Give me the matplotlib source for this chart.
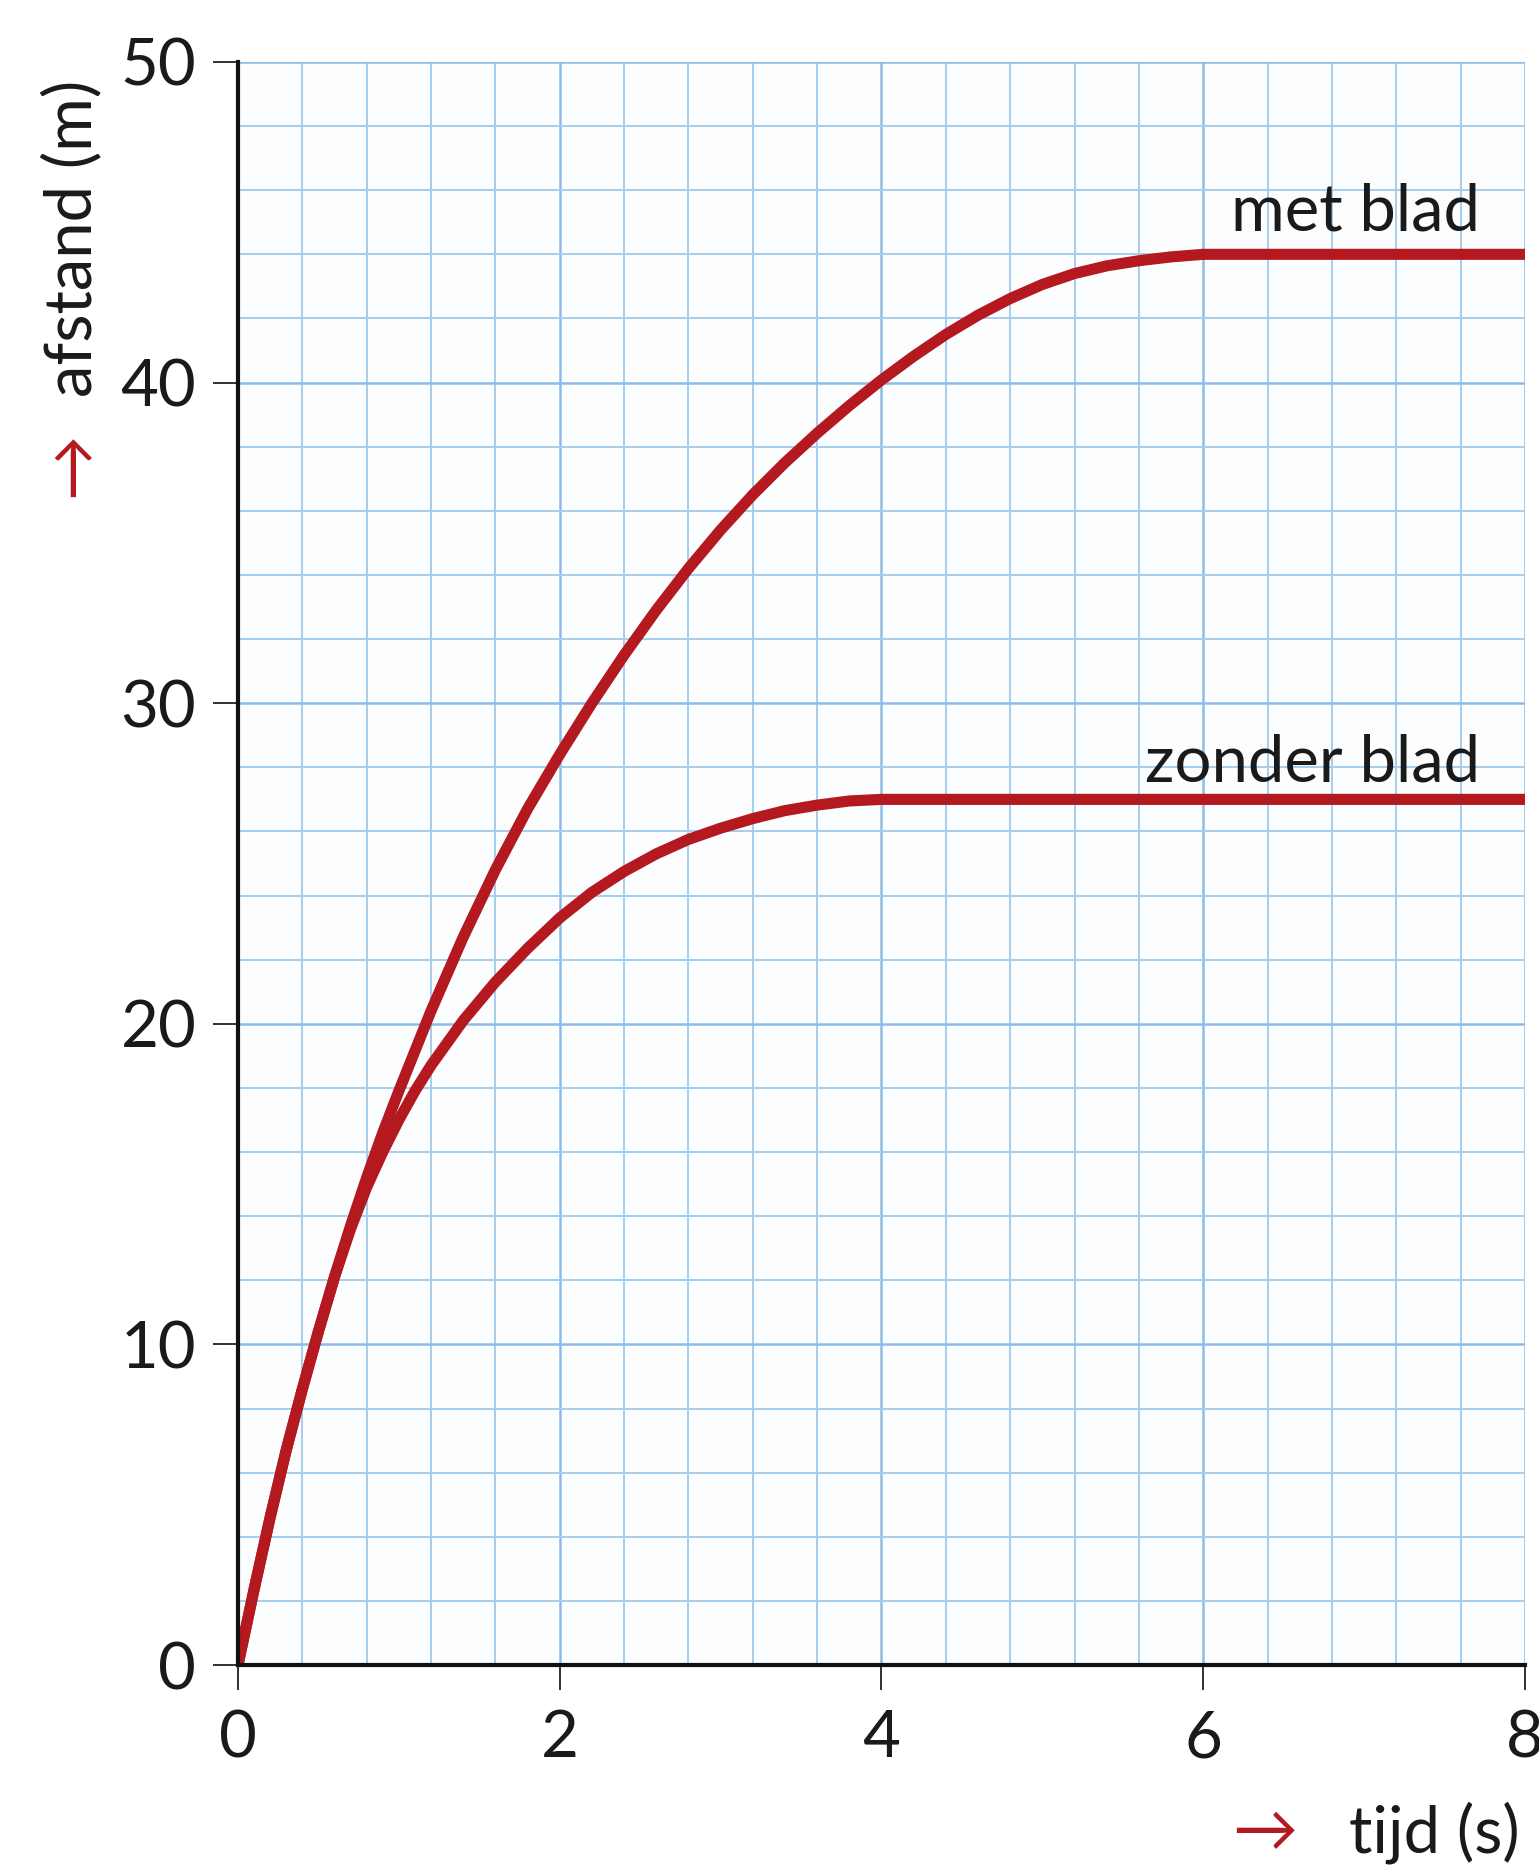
import matplotlib.pyplot as plt
import numpy as np

# ---------- Data: distance (m) vs time (s) ----------
tijd_met = [0.0, 0.1, 0.2, 0.3, 0.4, 0.5, 0.6, 0.7, 0.8, 0.9, 1.0, 1.2, 1.4,
            1.6, 1.8, 2.0, 2.2, 2.4, 2.6, 2.8, 3.0, 3.2, 3.4, 3.6, 3.8, 4.0,
            4.2, 4.4, 4.6, 4.8, 5.0, 5.2, 5.4, 5.6, 5.8, 6.0, 8.0]
afstand_met = [0.0, 2.35, 4.6, 6.7, 8.6, 10.4, 12.1, 13.7, 15.2, 16.6, 17.9,
               20.4, 22.7, 24.8, 26.7, 28.4, 30.0, 31.5, 32.9, 34.2, 35.4,
               36.5, 37.5, 38.42, 39.28, 40.08, 40.82, 41.5, 42.1, 42.62,
               43.06, 43.4, 43.64, 43.8, 43.92, 44.0, 44.0]

tijd_zonder = [0.0, 0.1, 0.2, 0.3, 0.4, 0.5, 0.6, 0.7, 0.8, 0.9, 1.0, 1.1,
               1.2, 1.3, 1.4, 1.6, 1.8, 2.0, 2.2, 2.4, 2.6, 2.8, 3.0, 3.2,
               3.4, 3.6, 3.8, 4.0, 8.0]
afstand_zonder = [0.0, 2.35, 4.6, 6.7, 8.6, 10.4, 12.1, 13.6, 14.9, 16.0,
                  17.0, 17.9, 18.7, 19.4, 20.1, 21.3, 22.35, 23.3, 24.1,
                  24.75, 25.3, 25.75, 26.1, 26.4, 26.65, 26.82, 26.95, 27.0,
                  27.0]

x_ticks = [0, 2, 4, 6, 8]
y_ticks = [0, 10, 20, 30, 40, 50]

# ---------- Styling ----------
red = '#b3191f'
grid_blue = '#a6cdee'
grid_blue_major = '#8cbce6'
fonts = ['Lato', 'DejaVu Sans']
fs = 47

fig = plt.figure(figsize=(15.39, 18.66), dpi=100)
ax = fig.add_axes([0.1546, 0.1077, 0.8363, 0.8591])
ax.set_facecolor('#fcfdff')

# ---------- Graph paper grid ----------
for x in np.arange(0, 8.01, 0.4):
    major = abs(x - round(x)) < 1e-6 and round(x) % 2 == 0
    ax.axvline(x, color=grid_blue_major if major else grid_blue,
               lw=1.8 if major else 1.4, zorder=1)
for y in np.arange(0, 50.01, 2):
    major = int(round(y)) % 10 == 0
    ax.axhline(y, color=grid_blue_major if major else grid_blue,
               lw=1.8 if major else 1.4, zorder=1)

# ---------- Curves ----------
ax.plot(tijd_met, afstand_met, color=red, lw=8, solid_capstyle='butt',
        solid_joinstyle='round', zorder=3)
ax.plot(tijd_zonder, afstand_zonder, color=red, lw=8, solid_capstyle='butt',
        solid_joinstyle='round', zorder=3)

ax.text(7.72, 44.75, 'met blad', ha='right', va='baseline',
        fontsize=fs, family=fonts, color='#1a1a1a', zorder=4)
ax.text(7.72, 27.55, 'zonder blad', ha='right', va='baseline',
        fontsize=fs, family=fonts, color='#1a1a1a', zorder=4)

# ---------- Axes ----------
ax.set_xlim(0, 8)
ax.set_ylim(0, 50)
ax.set_xticks(x_ticks)
ax.set_yticks(y_ticks)
ax.set_xticklabels([str(v) for v in x_ticks], family=fonts, fontsize=fs)
ax.set_yticklabels([str(v) for v in y_ticks], family=fonts, fontsize=fs)
ax.tick_params(axis='both', direction='out', length=18, width=1.3,
               color='#222222', labelcolor='#1a1a1a')
ax.tick_params(axis='x', pad=14)
ax.tick_params(axis='y', pad=12)

for side in ['top', 'right']:
    ax.spines[side].set_visible(False)
for side in ['left', 'bottom']:
    ax.spines[side].set_color('#111111')
    ax.spines[side].set_linewidth(3)
    ax.spines[side].set_zorder(5)

# ---------- Axis labels with red arrows ----------
fig.text(0.047, 0.872, 'afstand (m)', rotation=90, ha='center', va='center',
         fontsize=fs, family=fonts, color='#1a1a1a')
fig.text(0.047, 0.751, '→', rotation=90, ha='center', va='center',
         fontsize=fs, family=fonts, color=red)
fig.text(0.9877, 0.007, 'tijd (s)', ha='right', va='baseline',
         fontsize=fs, family=fonts, color='#1a1a1a')
fig.text(0.822, 0.018, '→', ha='center', va='center',
         fontsize=fs, family=fonts, color=red)

fig.savefig('out.png', dpi=100)
